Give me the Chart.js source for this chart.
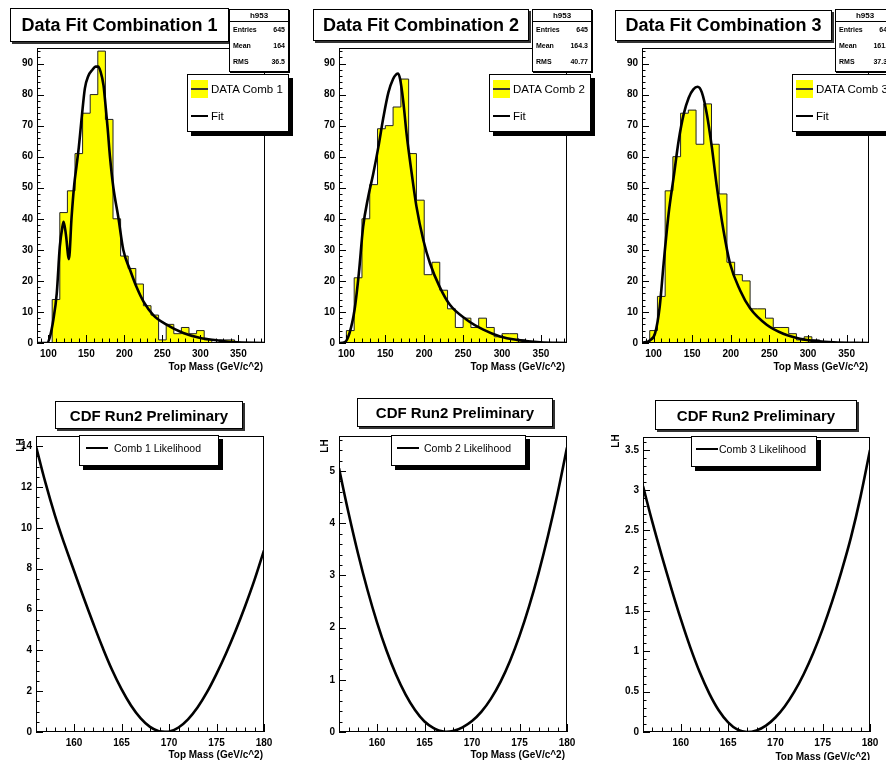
<!DOCTYPE html>
<html>
<head>
<meta charset="utf-8">
<script src="https://cdn.jsdelivr.net/npm/chart.js@4.4.0/dist/chart.umd.min.js"></script>
<style>
  body { margin: 0; background: #fff; width: 886px; height: 760px; overflow: hidden; position: relative;
         font-family: "Liberation Sans", Arial, sans-serif; color: #000; }
  canvas { position: absolute; }
  .title { position: absolute; background: #fff; border: 1px solid #000; box-shadow: 2px 2px 0 #333;
           font-weight: bold; display: flex; align-items: center; justify-content: center; white-space: nowrap; }
  .stats { position: absolute; background: #fff; border: 1px solid #000; box-shadow: 1px 1px 0 #000;
           font-weight: bold; font-size: 7px; }
  .stats .sh { height: 11px; line-height: 11px; text-align: center; border-bottom: 1px solid #000; font-size: 8px; }
  .stats .sr { display: flex; justify-content: space-between; padding: 0 3px; height: 16px; line-height: 16px; }
  .leg { position: absolute; background: #fff; border: 1px solid #000; box-shadow: 4px 4px 0 #000; }
  .leg .sw { position: absolute; width: 17px; height: 18px; background: #ffff00; }
  .leg .sw::after { content: ""; position: absolute; left: 0; right: 0; top: 8px; height: 2px; background: #333; }
  .leg .ln { position: absolute; height: 2px; background: #000; }
  .leg .lt { position: absolute; white-space: nowrap; line-height: 14px; }
  .axt { position: absolute; width: 160px; text-align: right; font-weight: bold; font-size: 10px; line-height: 12px; white-space: nowrap; }
  .lh { position: absolute; font-weight: bold; font-size: 10px; line-height: 10px; transform: rotate(-90deg); transform-origin: center; }
</style>
</head>
<body>
<script>
// ---------- données ----------
const histTickLabels = [100, 150, 200, 250, 300, 350];
const countTickLabels = [0, 10, 20, 30, 40, 50, 60, 70, 80, 90];

const comb1Edges = [85, 95, 105, 115, 125, 135, 145, 155, 165, 175, 185, 195, 205, 215, 225, 235,
                    245, 255, 265, 275, 285, 295, 305, 315, 325, 335, 345, 355, 365, 375, 385];
const comb1Counts = [0, 0, 14, 42, 49, 61, 74, 80, 94, 72, 40, 28, 24, 19, 12, 9,
                     1, 6, 3, 5, 3, 4, 1, 0, 1, 1, 0, 0, 0, 0];
const fit1Mass = [85, 98, 102, 106.5, 111, 115, 118.5, 120, 123, 127, 130.5, 134, 137, 140, 144, 148, 152.5,
                  158, 162, 165.5, 168.5, 172.5, 175, 178, 181, 185.5, 192, 198.5, 207.5, 216, 225, 238,
                  255.5, 277.5, 300, 321.5, 343, 385];
const fit1Value = [0, 0, 2, 7.5, 16, 31, 37.5, 39, 35, 27, 40.5, 51, 57, 63, 73, 82, 86,
                   88, 89, 89, 87.5, 83, 77, 69, 60, 50, 40.5, 30, 23.5, 18, 13.4, 9,
                   5.9, 3.2, 1.6, 0.9, 0.3, 0];

const comb2Edges = [90, 100, 110, 120, 130, 140, 150, 160, 170, 180, 190, 200, 210, 220, 230, 240,
                    250, 260, 270, 280, 290, 300, 310, 320, 330, 340, 350, 360, 370, 380, 390];
const comb2Counts = [0, 4, 21, 40, 51, 69, 70, 76, 85, 61, 46, 22, 26, 17, 11, 5,
                     8, 5, 8, 5, 2, 3, 3, 1, 0, 0, 0, 0, 0, 0];
const fit2Mass = [90.5, 98, 104, 110.5, 116, 121.5, 128, 134.5, 141, 147.5, 154, 160, 164, 166.5, 169,
                  173, 177.5, 184, 190, 199, 207.5, 220, 233, 254.5, 276, 297.5, 319, 349, 383.5];
const fit2Value = [0, 0.3, 3.2, 10.7, 22.4, 37.4, 47, 54.5, 63, 72.6, 80.7, 85, 86.5, 86.8, 85,
                   78, 67, 54.5, 44, 33, 25.6, 18, 12.3, 7.5, 4.3, 2.1, 1, 0.2, 0];

const comb3Edges = [85, 95, 105, 115, 125, 135, 145, 155, 165, 175, 185, 195, 205, 215, 225, 235,
                    245, 255, 265, 275, 285, 295, 305, 315, 325, 335, 345, 355, 365, 375, 385];
const comb3Counts = [0, 4, 15, 49, 60, 74, 75, 64, 77, 64, 48, 26, 22, 20, 11, 11,
                     8, 5, 5, 3, 1, 2, 1, 0, 0, 0, 0, 0, 0, 0];
const fit3Mass = [85, 95.5, 102, 108, 113, 119.5, 126, 132.5, 139, 145.5, 151.5, 157, 162.5, 169, 175.5,
                  182, 190.5, 199, 212, 225, 246.5, 268, 289.5, 311, 333, 379];
const fit3Value = [0, 0.9, 3.2, 11.8, 25.6, 41.7, 53.4, 65.2, 73.7, 79, 81.7, 82.5, 80.7, 73.7, 63,
                   50.2, 36.3, 25.6, 17, 11.2, 5.9, 3, 1.4, 0.6, 0.2, 0];

const statsEntries = ['645', '645', '645'];
const statsMean = ['164', '164.3', '161.7'];
const statsRms = ['36.5', '40.77', '37.33'];

const lhTickLabels = [160, 165, 170, 175, 180];
const lhMass = [156, 157, 158, 159, 160, 161, 162, 163, 164, 165, 166, 167, 168,
                169, 170, 171, 172, 173, 174, 175, 176, 177, 178, 179, 180];
const lhComb1 = [14, 12.2, 10.6, 9.2, 7.9, 6.6, 5.35, 4.15, 3.05, 2.1, 1.3, 0.68, 0.25,
                 0.03, 0.02, 0.22, 0.62, 1.2, 1.95, 2.85, 3.85, 4.95, 6.15, 7.45, 8.9];
const lhComb2 = [5.05, 4.2, 3.42, 2.72, 2.1, 1.56, 1.1, 0.72, 0.42, 0.2, 0.07, 0.01, 0.02,
                 0.09, 0.21, 0.39, 0.64, 0.96, 1.36, 1.84, 2.4, 3.04, 3.76, 4.56, 5.45];
const lhComb3 = [3.05, 2.6, 2.18, 1.78, 1.4, 1.05, 0.74, 0.48, 0.27, 0.12, 0.03, 0, 0.02,
                 0.08, 0.18, 0.32, 0.5, 0.72, 0.98, 1.28, 1.62, 2.0, 2.42, 2.92, 3.5];
const lhTicks1 = [0, 2, 4, 6, 8, 10, 12, 14];
const lhTicks2 = [0, 1, 2, 3, 4, 5];
const lhTicks3 = [0, 0.5, 1, 1.5, 2, 2.5, 3, 3.5];

// ---------- mise en page ----------
const YW = 40, XH = 24, PT = 8, PR = 14;
const tickFont = { family: 'Liberation Sans', weight: 'bold', size: 10 };

// cadre + graduations vers l'intérieur, à la ROOT
const rootFrame = {
    id: 'rootFrame',
    afterDatasetsDraw(chart, args, o) {
        const { ctx, chartArea: a, scales: { x, y } } = chart;
        ctx.save();
        ctx.strokeStyle = '#000';
        ctx.lineWidth = 1;
        ctx.strokeRect(a.left + 0.5, a.top + 0.5, a.width - 1, a.height - 1);
        ctx.beginPath();
        for (let k = Math.ceil(x.min / o.xMinor - 1e-6); k * o.xMinor <= x.max + 1e-6; k++) {
            const v = k * o.xMinor;
            const len = o.xMajor.some(m => Math.abs(m - v) < 1e-6) ? 8 : 4.5;
            const px = Math.round(x.getPixelForValue(v)) + 0.5;
            ctx.moveTo(px, a.bottom);
            ctx.lineTo(px, a.bottom - len);
        }
        for (let k = Math.ceil(y.min / o.yMinor - 1e-6); k * o.yMinor <= y.max + 1e-6; k++) {
            const v = k * o.yMinor;
            const len = o.yMajor.some(m => Math.abs(m - v) < 1e-6) ? 7 : 3.5;
            const py = Math.round(y.getPixelForValue(v)) + 0.5;
            ctx.moveTo(a.left, py);
            ctx.lineTo(a.left + len, py);
        }
        ctx.stroke();
        ctx.restore();
    }
};

function makeCanvas(frame) {
    const [l, t, r, b] = frame;
    const c = document.createElement('canvas');
    c.width = (r - l) + YW + PR;
    c.height = (b - t) + PT + XH;
    c.style.left = (l - YW) + 'px';
    c.style.top = (t - PT) + 'px';
    document.body.appendChild(c);
    return c;
}

function axisOptions(min, max, tickValues, fitSize) {
    return {
        type: 'linear', min: min, max: max,
        grid: { display: false, drawTicks: false },
        border: { display: false },
        afterBuildTicks: s => { s.ticks = tickValues.map(v => ({ value: v })); },
        afterFit: fitSize,
        ticks: { color: '#000', font: tickFont, autoSkip: false, maxRotation: 0,
                 callback: v => String(v) }
    };
}

function makeChart(frame, xr, yr, xTicks, yTicks, xMinor, yMinor, datasets) {
    const x = axisOptions(xr[0], xr[1], xTicks, s => { s.height = XH; });
    x.ticks.padding = 5;
    const y = axisOptions(yr[0], yr[1], yTicks, s => { s.width = YW; });
    y.ticks.padding = 4;
    return new Chart(makeCanvas(frame), {
        type: 'line',
        data: { datasets: datasets },
        options: {
            responsive: false, animation: false, events: [],
            layout: { padding: { left: 0, top: PT, right: PR, bottom: 0 } },
            plugins: {
                legend: { display: false }, tooltip: { enabled: false },
                rootFrame: { xMajor: xTicks, yMajor: yTicks, xMinor: xMinor, yMinor: yMinor }
            },
            scales: { x: x, y: y }
        },
        plugins: [rootFrame]
    });
}

function histPoints(edges, counts) {
    return edges.map((e, i) => ({ x: e, y: i < counts.length ? counts[i] : 0 }));
}

// courbe d'ajustement (monotone, pour garder le creux de la comb. 1)
function fitCurve(xs, ys) {
    return { data: xs.map((v, i) => ({ x: v, y: ys[i] })), borderColor: '#000', borderWidth: 2.6,
             pointRadius: 0, fill: false, cubicInterpolationMode: 'monotone' };
}

// courbe de vraisemblance, lissée
function lhCurve(xs, ys) {
    return { data: xs.map((v, i) => ({ x: v, y: ys[i] })), borderColor: '#000', borderWidth: 2.6,
             pointRadius: 0, fill: false, tension: 0.4 };
}

function histSet(edges, counts) {
    return { data: histPoints(edges, counts), stepped: true, borderColor: '#222', borderWidth: 1,
             backgroundColor: '#ffff00', fill: 'origin', pointRadius: 0 };
}

// histogrammes
makeChart([37, 46, 265, 343], [85, 385], [0, 95], histTickLabels, countTickLabels, 10, 2,
          [fitCurve(fit1Mass, fit1Value), histSet(comb1Edges, comb1Counts)]);
makeChart([339, 46, 567, 343], [90.5, 383.5], [0, 95], histTickLabels, countTickLabels, 10, 2,
          [fitCurve(fit2Mass, fit2Value), histSet(comb2Edges, comb2Counts)]);
makeChart([642, 46, 869, 343], [85, 379], [0, 95], histTickLabels, countTickLabels, 10, 2,
          [fitCurve(fit3Mass, fit3Value), histSet(comb3Edges, comb3Counts)]);

// vraisemblances
makeChart([36, 434, 264, 732], [156, 180], [0, 14.5], lhTickLabels, lhTicks1, 1, 0.5,
          [lhCurve(lhMass, lhComb1)]);
makeChart([339, 434, 567, 732], [156, 180], [0, 5.67], lhTickLabels, lhTicks2, 1, 0.2,
          [lhCurve(lhMass, lhComb2)]);
makeChart([643, 435, 870, 732], [156, 180], [0, 3.66], lhTickLabels, lhTicks3, 1, 0.1,
          [lhCurve(lhMass, lhComb3)]);

// ---------- textes : titres, stats, légendes ----------
function addDiv(cls, style, html) {
    const d = document.createElement('div');
    d.className = cls;
    Object.assign(d.style, style);
    d.innerHTML = html;
    document.body.appendChild(d);
    return d;
}
const px = v => v + 'px';

const titles = [
    [10, 8, 217, 32, 18, 'Data Fit Combination 1'],
    [313, 9, 214, 30, 18, 'Data Fit Combination 2'],
    [615, 10, 215, 29, 18, 'Data Fit Combination 3'],
    [55, 401, 186, 26, 15, 'CDF Run2 Preliminary'],
    [357, 398, 194, 27, 15, 'CDF Run2 Preliminary'],
    [655, 400, 200, 28, 15, 'CDF Run2 Preliminary']
];
titles.forEach(([l, t, w, h, fs, txt]) =>
    addDiv('title', { left: px(l), top: px(t), width: px(w), height: px(h), fontSize: px(fs) }, txt));

[229, 532, 835].forEach((l, i) => {
    addDiv('stats', { left: px(l), top: '9px', width: '58px', height: '61px' },
        '<div class="sh">h953</div>' +
        '<div class="sr"><span>Entries</span><span>' + statsEntries[i] + '</span></div>' +
        '<div class="sr"><span>Mean</span><span>' + statsMean[i] + '</span></div>' +
        '<div class="sr"><span>RMS</span><span>' + statsRms[i] + '</span></div>');
});

[[187, 'DATA Comb 1'], [489, 'DATA Comb 2'], [792, 'DATA Comb 3']].forEach(([l, txt]) => {
    addDiv('leg', { left: px(l), top: '74px', width: '100px', height: '56px' },
        '<div class="sw" style="left:3px;top:5px"></div>' +
        '<div class="lt" style="left:23px;top:7px;font-size:11.5px">' + txt + '</div>' +
        '<div class="ln" style="left:3px;top:40px;width:17px"></div>' +
        '<div class="lt" style="left:23px;top:34px;font-size:11.5px">Fit</div>');
});

[[79, 435, 138, 6, 34, 'Comb 1 Likelihood'], [391, 435, 133, 5, 32, 'Comb 2 Likelihood'],
 [691, 436, 124, 4, 27, 'Comb 3 Likelihood']].forEach(([l, t, w, lx, tx, txt]) => {
    addDiv('leg', { left: px(l), top: px(t), width: px(w), height: '29px' },
        '<div class="ln" style="left:' + lx + 'px;top:11px;width:22px"></div>' +
        '<div class="lt" style="left:' + tx + 'px;top:5px;font-size:10.5px">' + txt + '</div>');
});

[[263, 361], [565, 361], [868, 361], [263, 749], [565, 749], [870, 751]].forEach(([r, t]) =>
    addDiv('axt', { left: px(r - 160), top: px(t) }, 'Top Mass (GeV/c^2)'));

[[20, 445], [324, 446], [615, 441]].forEach(([cx, cy]) =>
    addDiv('lh', { left: px(cx - 6), top: px(cy - 5) }, 'LH'));
</script>
</body>
</html>
